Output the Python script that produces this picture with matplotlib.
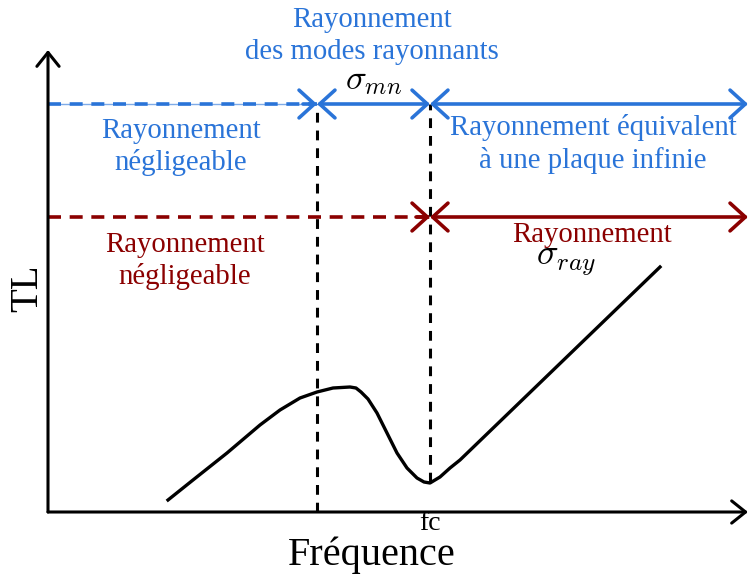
import matplotlib
matplotlib.use("Agg")
import matplotlib.pyplot as plt

plt.rcParams['font.family'] = ['Liberation Serif', 'DejaVu Serif']
plt.rcParams['mathtext.fontset'] = 'cm'

# TL curve (schematic), frequency / TL in arbitrary units from the origin
freq = [120, 145, 179, 212, 232, 252, 269, 285, 302, 308, 313, 320, 329, 339, 349, 359,
        369, 376, 382, 392, 402, 412, 612]
tl = [12, 32, 59, 87, 102, 114, 120, 124, 125, 124, 120, 113, 99, 79, 59, 44,
      34, 30, 29, 35, 44, 52, 245]

f_mn = 269      # sigma_mn limit
f_c = 382       # critical frequency
level_mn = 408  # blue band
level_ray = 295 # red band
x_end = 700
y_end = 462

blue = '#2a74d8'
red = '#8b0000'

fig = plt.figure(figsize=(7.49, 5.78), dpi=100)
ax = fig.add_axes([0, 0, 1, 1])
ax.set_xlim(-48, 701)
ax.set_ylim(-66, 512)
ax.axis('off')


def arrow(x0, y0, x1, y1, style, color, lw, hl, hw):
    ax.annotate('', xy=(x1, y1), xytext=(x0, y0),
                arrowprops=dict(arrowstyle='%s,head_length=%s,head_width=%s' % (style, hl, hw),
                                color=color, lw=lw, shrinkA=0, shrinkB=0,
                                mutation_scale=10))


# axes
arrow(0, 0, 0, y_end, '->', 'black', 2.2, 1.0, 0.8)
arrow(0, 0, x_end, 0, '->', 'black', 2.2, 1.0, 0.8)

# vertical dashed lines
ax.plot([f_mn, f_mn], [0, level_mn], color='black', lw=2.2, ls=(0, (3.2, 2.6)))
ax.plot([f_c, f_c], [30, level_mn], color='black', lw=2.2, ls=(0, (3.2, 2.6)))

# blue band
ax.plot([0, f_mn], [level_mn, level_mn], color=blue, lw=2.6, ls=(0, (3.6, 2.4)))
ax.plot([0, f_mn], [level_mn, level_mn], color=blue, lw=1.0, alpha=0.6)
arrow(f_mn - 14, level_mn, f_mn, level_mn, '->', blue, 2.6, 1.1, 1.0)
arrow(f_mn, level_mn, f_c, level_mn, '<->', blue, 2.6, 1.1, 1.0)
arrow(f_c, level_mn, x_end, level_mn, '<->', blue, 2.6, 1.1, 1.0)

# red band
ax.plot([0, f_c], [level_ray, level_ray], color=red, lw=2.6, ls=(0, (3.6, 2.4)))
arrow(f_c - 14, level_ray, f_c, level_ray, '->', red, 2.6, 1.1, 1.0)
arrow(f_c, level_ray, x_end, level_ray, '<->', red, 2.6, 1.1, 1.0)

# TL curve
ax.plot(freq, tl, color='black', lw=2.4, solid_joinstyle='round')

# texts
ax.text(324, 476, 'Rayonnement\ndes modes rayonnants', color=blue, fontsize=20.7,
        ha='center', va='center', linespacing=1.28)
ax.text(326, 431, r'$\sigma_{mn}$', fontsize=25, ha='center', va='center')
ax.text(133, 365, 'Rayonnement\nnégligeable', color=blue, fontsize=20.7,
        ha='center', va='center', linespacing=1.28)
ax.text(545, 368, 'Rayonnement équivalent\nà une plaque infinie', color=blue, fontsize=20.7,
        ha='center', va='center', linespacing=1.28)
ax.text(137, 251, 'Rayonnement\nnégligeable', color=red, fontsize=20.7,
        ha='center', va='center', linespacing=1.28)
ax.text(544, 277, 'Rayonnement', color=red, fontsize=20.7, ha='center', va='center')
ax.text(518, 250, r'$\sigma_{ray}$', fontsize=26, ha='center', va='center')
ax.text(-20, 224, 'TL', fontsize=28, rotation=90, ha='center', va='center')
ax.text(f_c, -12, 'fc', fontsize=20, ha='center', va='center')
ax.text(324, -43, 'Fréquence', fontsize=29, ha='center', va='center')

fig.savefig('out.png', dpi=100)
